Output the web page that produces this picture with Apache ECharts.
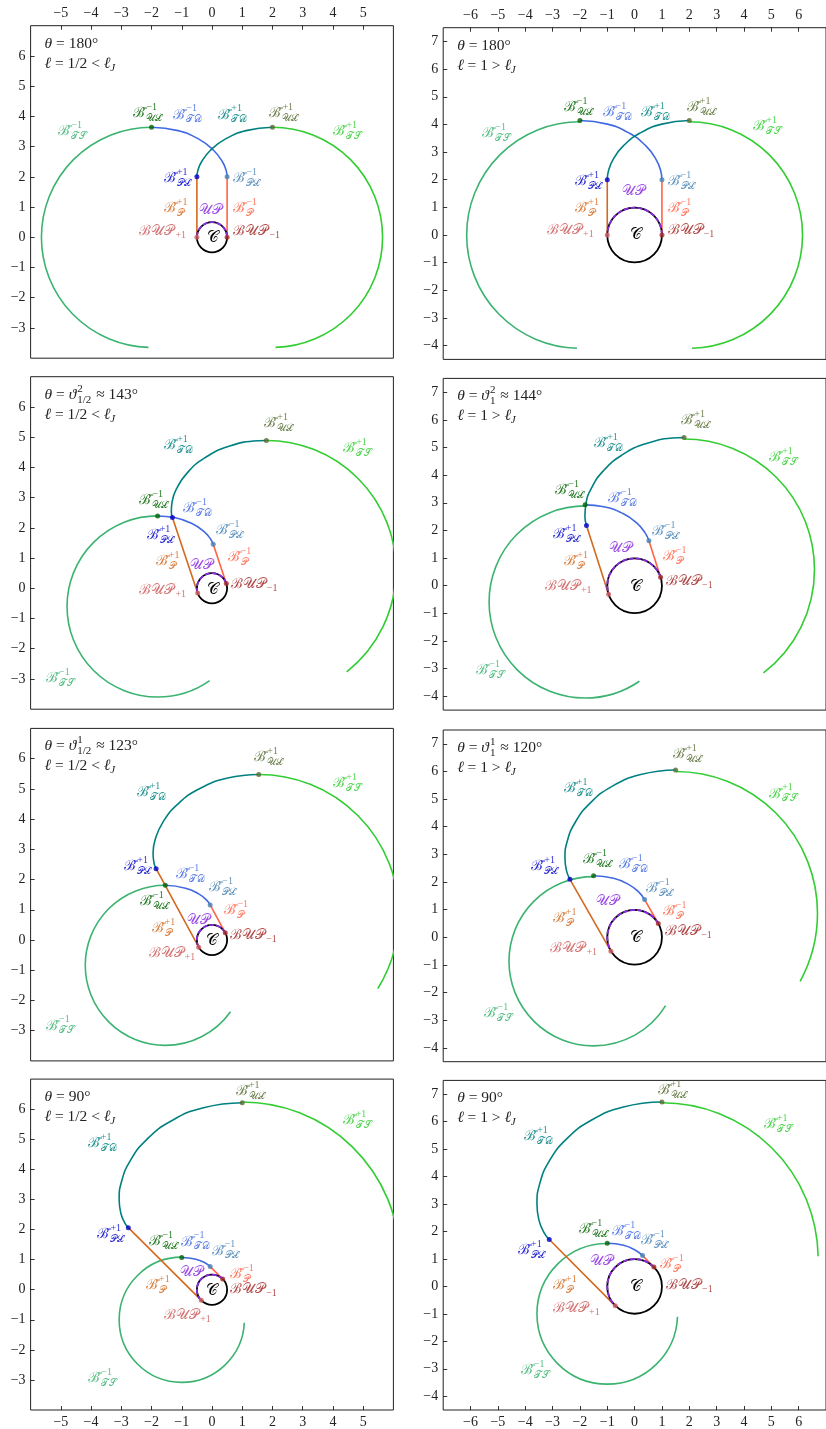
<!DOCTYPE html>
<html><head><meta charset="utf-8">
<script src="https://cdn.jsdelivr.net/npm/echarts@6/dist/echarts.min.js"></script>
<style>html,body{margin:0;padding:0;background:#fff}#c{width:826px;height:1429px}</style>
</head><body><div id="c"></div><script>
// ---------- data ----------
const panelTheta = ['180°','180°','143°','144°','123°','120°','90°','90°'];
const panelVartheta = [null,null,['2','1/2'],['2','1'],['1','1/2'],['1','1'],null,null];
const panelEll = ['1/2','1','1/2','1','1/2','1','1/2','1'];
const panelEllCmp = ['<','>','<','>','<','>','<','>'];

const circleC = [[0,0,0.5,0,360],[0,0,1,0,360],[0,0,0.5,0,360],[0,0,1,0,360],[0,0,0.5,0,360],[0,0,1,0,360],[0,0,0.5,0,360],[0,0,1,0,360]];
const upArc = [[0,0,0.5,0,180],[0,0,1,0,180],[0,0,0.5,18.5,198.5],[0,0,1,18,198],[0,0,0.5,28.5,208.5],[0,0,1,30,210],[0,0,0.5,45,225],[0,0,1,45,225]];

const bupPlus = [[-0.5,0],[-1,0],[-0.474,-0.159],[-0.951,-0.309],[-0.439,-0.239],[-0.866,-0.5],[-0.354,-0.354],[-0.707,-0.707]];
const bupMinus = [[0.5,0],[1,0],[0.474,0.159],[0.951,0.309],[0.439,0.239],[0.866,0.5],[0.354,0.354],[0.707,0.707]];
const plPlus = [[-0.5,2],[-1,2],[-1.310,2.340],[-1.760,2.181],[-1.849,2.358],[-2.366,2.098],[-2.768,2.061],[-3.121,1.707]];
const plMinus = [[0.5,2],[1,2],[0.041,1.453],[0.524,1.623],[-0.060,1.158],[0.366,1.366],[-0.061,0.768],[0.293,1.121]];
const ulPlus = [[2,3.642],[2,4.142],[1.799,4.889],[1.809,5.358],[1.545,5.475],[1.5,6.055],[1.0,6.213],[1.0,6.712]];
const ulMinus = [[-2,3.642],[-2,4.142],[-1.799,2.394],[-1.809,2.925],[-1.545,1.809],[-1.5,2.228],[-1.0,1.071],[-1.0,1.571]];

const tdMinus = [
  [[0.5,2],[0.471,2.197],[0.340,2.506],[0.050,2.879],[-0.435,3.247],[-1.125,3.529],[-2.0,3.642]],
  [[1,2],[0.954,2.326],[0.773,2.756],[0.404,3.232],[-0.185,3.680],[-0.995,4.012],[-2,4.142]],
  [[0.041,1.453],[-0.049,1.630],[-0.271,1.882],[-0.665,2.143],[-1.241,2.339],[-1.799,2.394]],
  [[0.524,1.623],[0.380,1.919],[0.075,2.272],[-0.424,2.611],[-1.122,2.855],[-1.809,2.925]],
  [[-0.060,1.158],[-0.179,1.317],[-0.442,1.526],[-0.875,1.715],[-1.545,1.809]],
  [[0.366,1.366],[0.163,1.626],[-0.208,1.907],[-0.767,2.135],[-1.500,2.228]],
  [[-0.061,0.768],[-0.221,0.887],[-0.532,1.012],[-1.000,1.071]],
  [[0.293,1.121],[0.030,1.319],[-0.402,1.495],[-1.000,1.571]]
];
const tdPlus = [
  [[-0.5,2],[-0.471,2.197],[-0.340,2.506],[-0.050,2.879],[0.435,3.247],[1.125,3.529],[2.0,3.642]],
  [[-1,2],[-0.954,2.326],[-0.773,2.756],[-0.404,3.232],[0.185,3.680],[0.995,4.012],[2,4.142]],
  [[-1.310,2.340],[-1.345,2.536],[-1.319,2.870],[-1.162,3.316],[-0.819,3.819],[-0.255,4.306],[0.540,4.690],[1.541,4.882],[1.799,4.889]],
  [[-1.760,2.181],[-1.817,2.505],[-1.778,2.970],[-1.574,3.537],[-1.152,4.145],[-0.484,4.712],[0.432,5.145],[1.562,5.351],[1.809,5.358]],
  [[-1.849,2.358],[-1.918,2.545],[-1.950,2.879],[-1.873,3.345],[-1.622,3.900],[-1.151,4.477],[-0.435,4.994],[0.517,5.356],[1.545,5.475]],
  [[-2.366,2.098],[-2.489,2.404],[-2.547,2.866],[-2.466,3.463],[-2.180,4.145],[-1.644,4.838],[-0.839,5.453],[0.224,5.890],[1.500,6.055]],
  [[-2.768,2.061],[-2.887,2.221],[-3.012,2.532],[-3.071,3.001],[-2.989,3.604],[-2.701,4.291],[-2.161,4.990],[-1.351,5.607],[-0.282,6.047],[1.000,6.213]],
  [[-3.121,1.707],[-3.319,1.970],[-3.495,2.402],[-3.571,3.000],[-3.471,3.733],[-3.133,4.541],[-2.514,5.343],[-1.600,6.040],[-0.411,6.530],[1.000,6.712]]
];
// circle arcs: [cx, cy, r, startDeg, endDeg]
const tsPlus = [[2,0,3.642,90,-88.4],[2,0,4.142,90,-88.6],[1.799,0.602,4.287,90,-51.7],[1.809,0.588,4.770,90,-52.5],
  [1.545,0.839,4.636,90,-31.8],[1.5,0.866,5.189,90,-28.6],[1.0,1.0,5.212,90,1.1],[1.0,1.0,5.712,90,1.0]];
const tsMinus = [[-2,0,3.642,90,268.4],[-2,0,4.142,90,268.5],[-1.799,-0.602,2.996,90,305.1],[-1.809,-0.588,3.513,90,304.4],
  [-1.545,-0.838,2.647,90,324.6],[-1.5,-0.866,3.094,90,328.4],[-1.0,-1.0,2.071,90,357.2],[-1.0,-1.0,2.571,90,357.7]];

const xTicksL = [-5,-4,-3,-2,-1,0,1,2,3,4,5];
const yTicksL = [-3,-2,-1,0,1,2,3,4,5,6];
const xTicksR = [-6,-5,-4,-3,-2,-1,0,1,2,3,4,5,6];
const yTicksR = [-4,-3,-2,-1,0,1,2,3,4,5,6,7];

// labels: TS-, UL-, TD-, TD+, UL+, TS+, PL+, PL-, P+, P-, UP, BUP+, BUP-, C
const labelMain = ['ℬ̄','ℬ̄','ℬ̄','ℬ̄','ℬ̄','ℬ̄','ℬ̄','ℬ̄','ℬ̄','ℬ̄','𝒰𝒫','ℬ𝒰𝒫','ℬ𝒰𝒫','𝒞'];
const labelSup = ['−1','−1','−1','+1','+1','+1','+1','−1','+1','−1','','','',''];
const labelSub = ['𝒯𝒮','𝒰ℒ','𝒯𝒟','𝒯𝒟','𝒰ℒ','𝒯𝒮','𝒫ℒ','𝒫ℒ','𝒫','𝒫','','+1','−1',''];
const labelAnchors = [
  [[-5.08,3.52],[-2.6,4.1],[-1.28,4.05],[0.21,4.05],[1.9,4.1],[4.01,3.52],[-1.59,1.95],[0.71,1.95],[-1.59,0.96],[0.71,0.96],[-0.43,0.88],[-2.4,0.21],[0.71,0.21],[-0.18,-0.03]],
  [[-5.57,3.68],[-2.59,4.62],[-1.17,4.45],[0.24,4.45],[1.91,4.62],[4.34,3.94],[-2.17,1.93],[1.21,1.93],[-2.17,0.97],[1.21,0.97],[-0.45,1.59],[-3.2,0.18],[1.21,0.18],[-0.18,0]],
  [[-5.49,-2.98],[-2.4,2.92],[-0.95,2.65],[-1.58,4.74],[1.73,5.46],[4.34,4.63],[-2.16,1.76],[0.13,1.93],[-1.86,0.88],[0.52,1.01],[-0.73,0.77],[-2.4,-0.08],[0.62,0.13],[-0.18,-0.05]],
  [[-5.79,-3.05],[-2.9,3.46],[-0.97,3.16],[-1.48,5.15],[1.71,5.97],[4.92,4.64],[-2.99,1.87],[0.63,1.95],[-2.57,0.87],[1.03,1.05],[-0.94,1.35],[-3.28,-0.04],[1.15,0.17],[-0.18,-0.04]],
  [[-5.49,-2.84],[-2.38,1.27],[-1.2,2.17],[-2.49,4.87],[1.4,6.04],[4.01,5.18],[-2.9,2.43],[-0.09,1.73],[-2.0,0.39],[0.41,0.99],[-0.84,0.66],[-2.1,-0.44],[0.6,0.14],[-0.2,-0.02]],
  [[-5.49,-2.75],[-1.87,2.82],[-0.57,2.64],[-2.59,5.39],[1.41,6.63],[4.92,5.19],[-3.78,2.56],[0.42,1.77],[-2.99,0.69],[1.03,0.93],[-1.41,1.29],[-3.08,-0.4],[1.12,0.21],[-0.18,0]],
  [[-4.09,-2.95],[-2.07,1.62],[-1.03,1.59],[-4.11,4.87],[0.79,6.6],[4.32,5.64],[-3.79,1.84],[-0.01,1.29],[-2.18,0.13],[0.6,0.52],[-1.06,0.57],[-1.58,-0.86],[0.6,0.02],[-0.2,-0.03]],
  [[-4.16,-3.04],[-2.05,2.09],[-0.84,1.99],[-4.04,5.46],[0.84,7.15],[4.73,5.89],[-4.26,1.3],[0.24,1.66],[-2.98,0.04],[0.93,0.82],[-1.63,0.9],[-2.98,-0.81],[1.15,0.04],[-0.18,-0.02]]
];

// ---------- styles ----------
const labelColors = ['#3CB371','#006400','#4169E1','#008080','#556B2F','#32CD32','#0000CD','#4682B4','#D2691E','#FF6347','#8A2BE2','#CD5C5C','#A52A2A','#000000'];
const C = {tsP:'#32CD32', tsM:'#3CB371', tdP:'#008080', tdM:'#4169E1', pP:'#D2691E', pM:'#FF6347',
  plP:'#0000CD', plM:'#4682B4', ulP:'#556B2F', ulM:'#006400', bupP:'#CD5C5C', bupM:'#A52A2A', up:'#8A2BE2'};
const SERIF = '"Liberation Serif","DejaVu Serif",serif';
const mctx = document.createElement('canvas').getContext('2d');
function tw(t, f){ mctx.font = f; return mctx.measureText(t).width; }
const fmt = v => v < 0 ? '\u2212' + (-v) : String(v);

const layoutL = {left:30.6, width:362.8, height:332.5, tops:[25.7,376.7,728.4,1079.1], xmin:-6,xmax:6,ymin:-4,ymax:7, xt:xTicksL, yt:yTicksL};
const layoutR = {left:443.2, width:387, height:331.7, tops:[27.7,378.4,730,1080.4], xmin:-7,xmax:7,ymin:-4.5,ymax:7.5, xt:xTicksR, yt:yTicksR};

function arcRender(color, width, dash){
  return function(params, api){
    const c = api.coord([api.value(0), api.value(1)]);
    const r = api.size([api.value(2), 0])[0];
    const a0 = api.value(3), a1 = api.value(4);
    return {type:'arc', shape:{cx:c[0], cy:c[1], r:r, startAngle:-a0*Math.PI/180, endAngle:-a1*Math.PI/180, clockwise: a1 < a0},
      style:{stroke:color, lineWidth:width, fill:null, lineDash:dash||null}};
  };
}
function labelRender(params, api){
  const k = params.dataIndex;
  const pt = api.coord([api.value(0), api.value(1)]);
  const col = labelColors[k];
  const op = k === 13 ? 1 : 0.85;
  const mainFont = (k === 13 ? '16px ' : '14px ') + SERIF;
  const smallFont = '10px ' + SERIF;
  const ch = [{type:'text', x:pt[0], y:pt[1], style:{text:labelMain[k], font:mainFont, fill:col, opacity:op, align:'left', verticalAlign:'middle'}}];
  const w = tw(labelMain[k], mainFont);
  if (labelSup[k]) ch.push({type:'text', x:pt[0]+w+1, y:pt[1]-6, style:{text:labelSup[k], font:smallFont, fill:col, opacity:op, align:'left', verticalAlign:'middle'}});
  if (labelSub[k]) ch.push({type:'text', x:pt[0]+w+1, y:pt[1]+(labelSup[k]?5:4), style:{text:labelSub[k], font:smallFont, fill:col, opacity:op, align:'left', verticalAlign:'middle'}});
  return {type:'group', children:ch};
}
function titleRender(i){
  return function(params, api){
    const cs = params.coordSys;
    const x0 = cs.x + 14, y1 = cs.y + 18, y2 = cs.y + 38;
    const fN = '15.5px ' + SERIF, fI = 'italic 15.5px ' + SERIF, fS = '11px ' + SERIF;
    const ch = [];
    let x = x0;
    function put(t, f, y){ ch.push({type:'text', x:x, y:y, style:{text:t, font:f, fill:'#222', align:'left', verticalAlign:'middle'}}); x += tw(t, f); }
    put('θ', fI, y1); put(' = ', fN, y1);
    if (panelVartheta[i]) {
      put('ϑ', fI, y1);
      const sx = x + 1;
      ch.push({type:'text', x:sx, y:y1-6, style:{text:panelVartheta[i][0], font:fS, fill:'#222', align:'left', verticalAlign:'middle'}});
      ch.push({type:'text', x:sx, y:y1+5, style:{text:panelVartheta[i][1], font:fS, fill:'#222', align:'left', verticalAlign:'middle'}});
      x = sx + Math.max(tw(panelVartheta[i][0], fS), tw(panelVartheta[i][1], fS)) + 1;
      put(' ≈ ', fN, y1);
    }
    put(panelTheta[i], fN, y1);
    x = x0;
    put('ℓ', fI, y2); put(' = ' + panelEll[i] + ' ' + panelEllCmp[i] + ' ', fN, y2); put('ℓ', fI, y2);
    ch.push({type:'text', x:x, y:y2+4, style:{text:'J', font:'italic 11px ' + SERIF, fill:'#222', align:'left', verticalAlign:'middle'}});
    return {type:'group', children:ch};
  };
}

const grids = [], xAxes = [], yAxes = [], series = [];
for (let i = 0; i < 8; i++) {
  const col = i % 2, row = Math.floor(i / 2);
  const L = col === 0 ? layoutL : layoutR;
  grids.push({left:L.left, top:L.tops[row], width:L.width, height:L.height, show:true, borderColor:'#222', borderWidth:1, backgroundColor:'transparent', containLabel:false});
  const showX = row === 0 || row === 3;
  xAxes.push({gridIndex:i, type:'value', min:L.xmin, max:L.xmax, position: row === 0 ? 'top' : 'bottom',
    axisLine:{show:false, onZero:false}, splitLine:{show:false},
    axisTick:{show:showX, inside:true, length:4, lineStyle:{color:'#000', width:0.8}, customValues:L.xt},
    axisLabel:{show:showX, customValues:L.xt, formatter:fmt, margin:5, color:'#222', fontFamily:'Liberation Serif', fontSize:14}});
  yAxes.push({gridIndex:i, type:'value', min:L.ymin, max:L.ymax, position:'left',
    axisLine:{show:false, onZero:false}, splitLine:{show:false},
    axisTick:{show:true, inside:true, length:4, lineStyle:{color:'#000', width:0.8}, customValues:L.yt},
    axisLabel:{show:true, customValues:L.yt, formatter:fmt, margin:5, color:'#222', fontFamily:'Liberation Serif', fontSize:14}});
  const ax = {xAxisIndex:i, yAxisIndex:i};
  series.push(Object.assign({type:'custom', data:[tsMinus[i]], renderItem:arcRender(C.tsM, 1.6), clip:true, z:1, silent:true}, ax));
  series.push(Object.assign({type:'custom', data:[tsPlus[i]], renderItem:arcRender(C.tsP, 1.6), clip:true, z:1, silent:true}, ax));
  series.push(Object.assign({type:'line', data:tdMinus[i], smooth:0.5, showSymbol:false, lineStyle:{color:C.tdM, width:1.6}, z:2, silent:true}, ax));
  series.push(Object.assign({type:'line', data:tdPlus[i], smooth:0.5, showSymbol:false, lineStyle:{color:C.tdP, width:1.6}, z:2, silent:true}, ax));
  series.push(Object.assign({type:'line', data:[bupPlus[i], plPlus[i]], showSymbol:false, lineStyle:{color:C.pP, width:1.6}, z:3, silent:true}, ax));
  series.push(Object.assign({type:'line', data:[bupMinus[i], plMinus[i]], showSymbol:false, lineStyle:{color:C.pM, width:1.6}, z:3, silent:true}, ax));
  series.push(Object.assign({type:'custom', data:[circleC[i]], renderItem:arcRender('#000', 1.8), clip:true, z:4, silent:true}, ax));
  series.push(Object.assign({type:'custom', data:[upArc[i]], renderItem:arcRender(C.up, 1.8, [5,2]), clip:true, z:5, silent:true}, ax));
  series.push(Object.assign({type:'scatter', symbolSize:5, z:6, silent:true, data:[
    {value:bupPlus[i], itemStyle:{color:C.bupP}}, {value:bupMinus[i], itemStyle:{color:C.bupM}},
    {value:plPlus[i], itemStyle:{color:C.plP}}, {value:plMinus[i], itemStyle:{color:C.plM}},
    {value:ulPlus[i], itemStyle:{color:C.ulP}}, {value:ulMinus[i], itemStyle:{color:C.ulM}}]}, ax));
  series.push(Object.assign({type:'custom', data:labelAnchors[i], renderItem:labelRender, clip:false, z:7, silent:true}, ax));
  series.push(Object.assign({type:'custom', data:[[0,0]], renderItem:titleRender(i), clip:false, z:7, silent:true}, ax));
}
const chart = echarts.init(document.getElementById('c'), null, {renderer:'canvas'});
chart.setOption({animation:false, backgroundColor:'#fff', grid:grids, xAxis:xAxes, yAxis:yAxes, series:series});
</script></body></html>
